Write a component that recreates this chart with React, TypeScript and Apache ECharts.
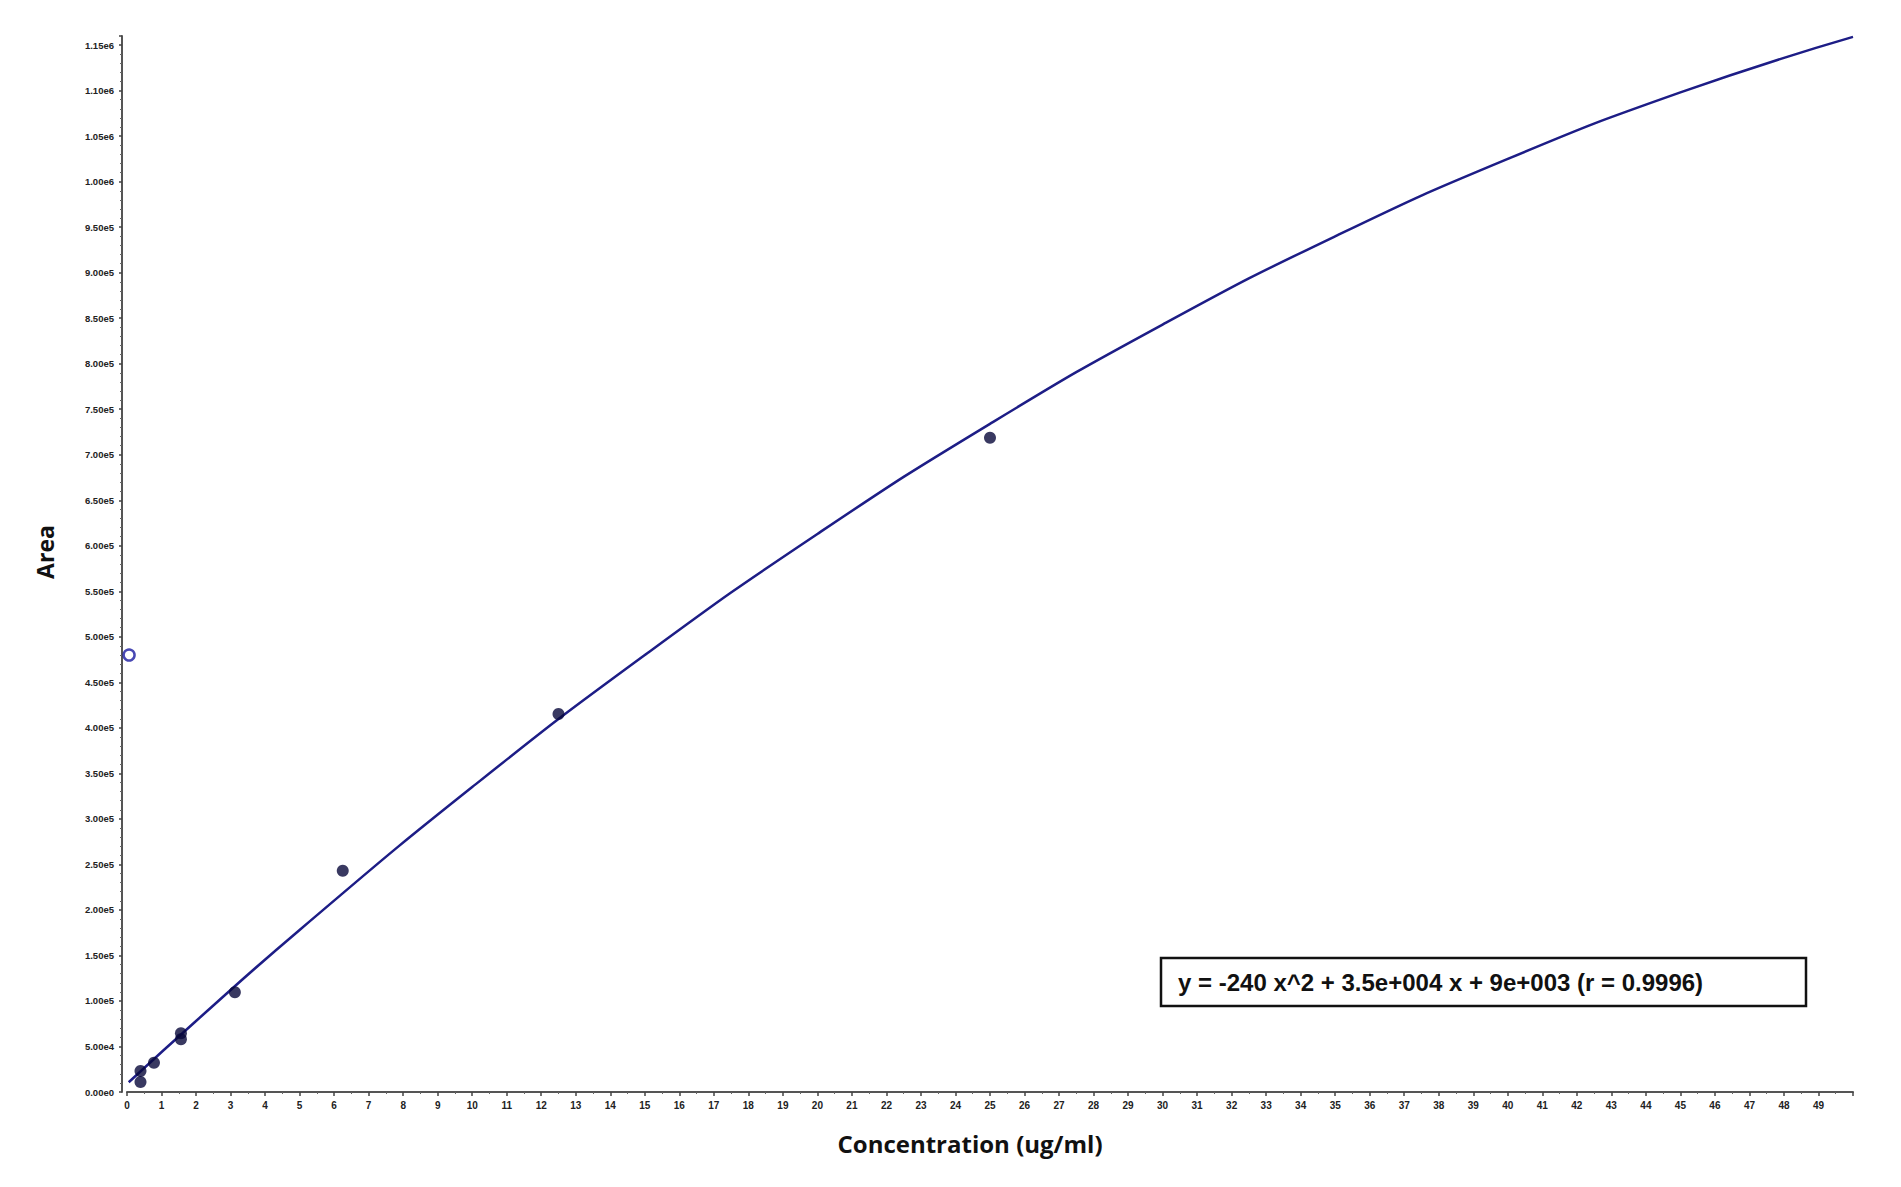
import React, { useEffect, useRef } from "react";
import * as echarts from "echarts";

// Calibration standards (concentration ug/ml, area)
const stdConc = [0.390625, 0.390625, 0.78125, 1.5625, 1.5625, 3.125, 6.25, 12.5, 25];
const stdArea = [23000, 11000, 32200, 64500, 57900, 109500, 243100, 415200, 718700];

// Excluded (open) point
const excludedConc = [0.06];
const excludedArea = [480000];

// Fitted curve
const curveConc = [0.05, 2, 5, 10, 15, 20, 25, 30, 35, 40, 45, 50];
const curveArea = [10700, 78000, 178000, 335000, 480000, 613000, 734000, 843000, 940000, 1025000, 1098000, 1159000];

const equationText = "y = -240 x^2 + 3.5e+004 x + 9e+003 (r = 0.9996)";
const xTitle = "Concentration (ug/ml)";
const yTitle = "Area";

export default function App() {
  const ref = useRef<HTMLDivElement>(null);

  useEffect(() => {
    if (!ref.current) return;
    const chart = echarts.init(ref.current, null, { renderer: "svg" });
    const pair = (xs: number[], ys: number[]) => xs.map((x, i) => [x, ys[i]]);

    chart.setOption({
      animation: false,
      backgroundColor: "#ffffff",
      grid: { left: 127, right: 48, top: 36, bottom: 95, containLabel: false },
      xAxis: {
        type: "value",
        min: 0,
        max: 50,
        interval: 1,
        splitLine: { show: false },
        axisLine: { show: true, onZero: false, lineStyle: { color: "#555", width: 2 } },
        axisTick: { show: true, length: 4, lineStyle: { color: "#444", width: 1.5 } },
        minorTick: { show: true, splitNumber: 2, length: 2, lineStyle: { color: "#666" } },
        axisLabel: {
          showMaxLabel: false,
          margin: 8,
          fontSize: 10,
          fontWeight: "bold",
          color: "#222",
          fontFamily: "Liberation Sans",
        },
      },
      yAxis: {
        type: "value",
        min: 0,
        max: 1160000,
        interval: 50000,
        offset: 5,
        splitLine: { show: false },
        axisLine: { show: true, onZero: false, lineStyle: { color: "#555", width: 2 } },
        axisTick: { show: true, length: 3, lineStyle: { color: "#444", width: 1.5 } },
        minorTick: { show: true, splitNumber: 5, length: 2, lineStyle: { color: "#666" } },
        axisLabel: {
          showMaxLabel: false,
          margin: 8,
          fontSize: 9.5,
          fontWeight: "bold",
          color: "#222",
          fontFamily: "Liberation Sans",
          formatter: (v: number) => v.toExponential(2).replace("e+", "e"),
        },
      },
      series: [
        {
          type: "line",
          data: pair(curveConc, curveArea),
          smooth: true,
          showSymbol: false,
          lineStyle: { color: "#1d1d86", width: 2.5 },
          z: 2,
        },
        {
          type: "scatter",
          data: pair(stdConc, stdArea),
          symbol: "circle",
          symbolSize: 12,
          itemStyle: { color: "#08083a" },
          z: 3,
        },
        {
          type: "scatter",
          data: pair(excludedConc, excludedArea),
          symbol: "circle",
          symbolSize: 11,
          itemStyle: { color: "#ffffff", borderColor: "#1a1aa0", borderWidth: 2.5 },
          z: 3,
        },
      ],
      graphic: [
        {
          type: "text",
          x: 970,
          y: 1143,
          style: {
            text: xTitle,
            fontSize: 24,
            fontWeight: "bold",
            fontFamily: "Open Sans",
            fill: "#111",
            align: "center",
            verticalAlign: "middle",
          },
        },
        {
          type: "text",
          x: 45,
          y: 552,
          rotation: Math.PI / 2,
          style: {
            text: yTitle,
            fontSize: 23,
            fontWeight: "bold",
            fontFamily: "Open Sans",
            fill: "#111",
            align: "center",
            verticalAlign: "middle",
          },
        },
        {
          type: "rect",
          shape: { x: 1161, y: 958, width: 645, height: 48 },
          style: { fill: "#ffffff", stroke: "#111", lineWidth: 2.5 },
          z: 10,
        },
        {
          type: "text",
          x: 1178,
          y: 982,
          z: 11,
          style: {
            text: equationText,
            fontSize: 24,
            fontWeight: "bold",
            fontFamily: "Liberation Sans",
            fill: "#111",
            verticalAlign: "middle",
          },
        },
      ],
    });

    return () => chart.dispose();
  }, []);

  return (
    <div
      ref={ref}
      style={{ position: "fixed", left: 0, top: 0, width: 1901, height: 1187, background: "#fff" }}
    />
  );
}
